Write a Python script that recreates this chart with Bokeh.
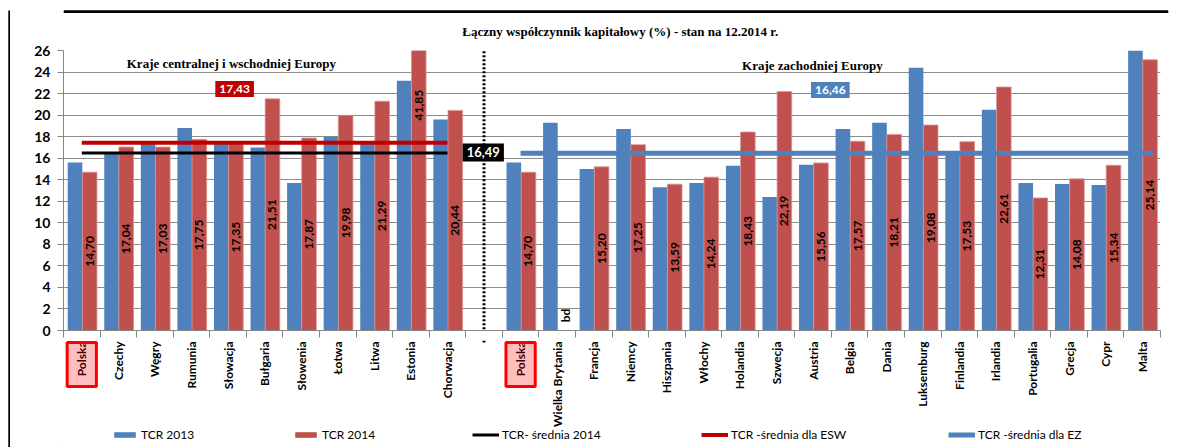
from bokeh.plotting import figure
from bokeh.models import (Range1d, FixedTicker, Label, Legend, LegendItem, ColumnDataSource)
from bokeh.layouts import column, row
from bokeh.core.properties import value
from bokeh.embed import file_html
from bokeh.resources import INLINE
import math

# ---------------- data ----------------
title_text = "Łączny współczynnik kapitałowy (%) - stan na 12.2014 r."
group_left_title = "Kraje centralnej i wschodniej Europy"
group_right_title = "Kraje zachodniej Europy"

cee_countries = ["Polska", "Czechy", "Węgry", "Rumunia", "Słowacja", "Bułgaria",
                 "Słowenia", "Łotwa", "Litwa", "Estonia", "Chorwacja"]
cee_tcr2013 = [15.6, 16.5, 17.5, 18.8, 17.5, 17.0, 13.7, 18.0, 17.5, 23.2, 19.6]
cee_tcr2014 = [14.70, 17.04, 17.03, 17.75, 17.35, 21.51, 17.87, 19.98, 21.29, 41.85, 20.44]

we_countries = ["Polska", "Wielka Brytania", "Francja", "Niemcy", "Hiszpania", "Włochy",
                "Holandia", "Szwecja", "Austria", "Belgia", "Dania", "Luksemburg",
                "Finlandia", "Irlandia", "Portugalia", "Grecja", "Cypr", "Malta"]
we_tcr2013 = [15.6, 19.3, 15.0, 18.7, 13.3, 13.7, 15.3, 12.4, 15.4, 18.7, 19.3, 24.4,
              16.3, 20.5, 13.7, 13.6, 13.5, 26.5]
we_tcr2014 = [14.70, None, 15.20, 17.25, 13.59, 14.24, 18.43, 22.19, 15.56, 17.57, 18.21,
              19.08, 17.53, 22.61, 12.31, 14.08, 15.34, 25.14]

avg_2014 = 16.49
avg_esw = 17.43
avg_ez = 16.46

y_ticks = list(range(0, 27, 2))
legend_labels = ["TCR 2013", "TCR 2014", "TCR- średnia 2014",
                 "TCR -średnia dla ESW", "TCR -średnia dla EZ"]
highlight = "Polska"

# ---------------- styling ----------------
BLUE = "#4F81BD"
RED = "#C0504D"
DARKRED = "#C00000"
GRID = "#8C8C8C"
AXIS = "#868686"
SANS = "Lato"
SERIF = "Liberation Serif"
LEFT = 10          # width of the left strip holding the border line
W = 1172           # width of main chart canvas
BL, BR = 53, 22

gap = 1
x_cee = list(range(len(cee_countries)))
x_we = [len(cee_countries) + gap + i for i in range(len(we_countries))]
n_total = len(cee_countries) + gap + len(we_countries)
xs_all = x_cee + x_we
names_all = cee_countries + we_countries


def bare(fig):
    fig.outline_line_color = None
    fig.grid.visible = False
    fig.background_fill_color = "white"
    fig.border_fill_color = "white"
    return fig


# ---- left strip with border line ----
left_bar = bare(figure(width=LEFT, height=447, output_backend="svg", toolbar_location=None,
                       x_range=Range1d(0, LEFT), y_range=Range1d(0, 447),
                       x_axis_location=None, y_axis_location=None,
                       min_border_left=0, min_border_right=0, min_border_top=0,
                       min_border_bottom=0))
left_bar.quad(left=[7.8], right=[10], top=[437], bottom=[0], fill_color="black", line_color=None)

# ---- top strip: border line + title ----
TW = 1180
top = bare(figure(width=TW, height=42, output_backend="svg", toolbar_location=None,
                  x_range=Range1d(0, TW), y_range=Range1d(0, 42),
                  x_axis_location=None, y_axis_location=None,
                  min_border_left=0, min_border_right=0, min_border_top=0, min_border_bottom=0))
top.quad(left=[0], right=[TW], top=[32.2], bottom=[29.5], fill_color="black", line_color=None)
top.text(x=[594.5], y=[11], text=[title_text], text_align="center", text_baseline="middle",
         text_font=value(SERIF), text_font_style="bold", text_font_size="13px",
         text_color="black")

# ---- main chart ----
p = figure(width=W, height=298, output_backend="svg", toolbar_location=None,
           x_range=Range1d(-0.5, n_total - 0.5), y_range=Range1d(0, 26),
           min_border_left=BL, min_border_right=BR, min_border_top=8,
           min_border_bottom=10)
p.outline_line_color = None
p.background_fill_color = "white"
p.border_fill_color = "white"

v13 = cee_tcr2013 + we_tcr2013
v14 = cee_tcr2014 + we_tcr2014
src13 = ColumnDataSource(dict(x=[x - 0.185 for x in xs_all], top=v13))
x14 = [x + 0.215 for x, v in zip(xs_all, v14) if v is not None]
t14 = [v for v in v14 if v is not None]
src14 = ColumnDataSource(dict(x=x14, top=t14))

p.vbar(x="x", top="top", width=0.4, source=src13, fill_color=BLUE, line_color=None)
p.vbar(x="x", top="top", width=0.4, source=src14, fill_color=RED,
       line_color="#D99694", line_width=0.8)

lab = ColumnDataSource(dict(x=x14, y=[v / 2 for v in t14],
                            t=[f"{v:.2f}".replace(".", ",") for v in t14]))
p.text(x="x", y="y", text="t", source=lab, angle=math.pi / 2,
       text_align="center", text_baseline="middle", text_font=value(SANS),
       text_font_style="bold", text_font_size="12px", text_color="black")

bd_x = [x_we[i] + 0.215 for i, v in enumerate(we_tcr2014) if v is None]
p.text(x=bd_x, y=[1.4] * len(bd_x), text=["bd"] * len(bd_x), angle=math.pi / 2,
       text_align="center", text_baseline="middle", text_font=value(SANS),
       text_font_style="bold", text_font_size="12px", text_color="black")

line_kw = [dict(line_color="black", line_width=3),
           dict(line_color=DARKRED, line_width=4),
           dict(line_color=BLUE, line_width=5)]
p.line(x=[x_cee[0], x_cee[-1]], y=[avg_2014, avg_2014], **line_kw[0])
p.line(x=[x_cee[0], x_cee[-1]], y=[avg_esw, avg_esw], **line_kw[1])
p.line(x=[x_we[0], x_we[-1] + 0.3], y=[avg_ez, avg_ez], **line_kw[2])

sep_x = len(cee_countries)
p.segment(x0=[sep_x], y0=[-1], x1=[sep_x], y1=[27], line_color="black",
          line_width=3, line_dash="2 2")


def boxed(x, y, txt, bg, size):
    p.add_layout(Label(x=x, y=y, text=txt, text_align="center", text_baseline="middle",
                       text_color="white", text_font=SANS, text_font_style="bold",
                       text_font_size=size, background_fill_color=bg, padding=4))


boxed(4.18, 22.42, f"{avg_esw:.2f}".replace(".", ","), DARKRED, "12px")
boxed(20.47, 22.33, f"{avg_ez:.2f}".replace(".", ","), BLUE, "12px")
boxed(10.98, 16.53, f"{avg_2014:.2f}".replace(".", ","), "black", "13px")

p.add_layout(Label(x=4.09, y=24.8, text=group_left_title, text_align="center",
                   text_baseline="middle", text_font=SERIF, text_font_style="bold",
                   text_font_size="13px", text_color="black"))
p.add_layout(Label(x=19.98, y=24.6, text=group_right_title, text_align="center",
                   text_baseline="middle", text_font=SERIF, text_font_style="bold",
                   text_font_size="13px", text_color="black"))

p.xgrid.grid_line_color = None
p.ygrid.grid_line_color = GRID
p.ygrid.grid_line_width = 1
p.yaxis.ticker = FixedTicker(ticks=y_ticks)
p.yaxis.axis_line_color = AXIS
p.yaxis.major_tick_line_color = AXIS
p.yaxis.major_tick_out = 6
p.yaxis.major_tick_in = 0
p.yaxis.minor_tick_line_color = None
p.yaxis.major_label_standoff = 7
p.yaxis.major_label_text_font = SANS
p.yaxis.major_label_text_font_style = "bold"
p.yaxis.major_label_text_font_size = "14px"
p.yaxis.major_label_text_color = "black"

p.xaxis.ticker = FixedTicker(ticks=[], minor_ticks=[i - 0.5 for i in range(n_total + 1)])
p.xaxis.axis_line_color = AXIS
p.xaxis.major_tick_line_color = None
p.xaxis.major_tick_out = 0
p.xaxis.minor_tick_line_color = AXIS
p.xaxis.minor_tick_out = 7
p.xaxis.minor_tick_in = 0
p.xaxis.major_label_standoff = 0
p.xaxis.major_label_text_font_size = "0px"

# ---- bottom strip: category labels, highlight boxes, legend ----
H2 = 107
b = bare(figure(width=W, height=H2, output_backend="svg", toolbar_location=None,
                x_range=p.x_range, y_range=Range1d(0, H2),
                x_axis_location=None, y_axis_location=None,
                min_border_left=BL, min_border_right=BR, min_border_top=0, min_border_bottom=0))
b.text(x=xs_all, y=[106] * len(xs_all), text=names_all, angle=math.pi / 2,
       text_align="right", text_baseline="middle", text_font=value(SANS),
       text_font_style="bold", text_font_size="12px", text_color="black")
hx = [x for x, n in zip(xs_all, names_all) if n == highlight]
b.quad(left=[x - 0.4 for x in hx], right=[x + 0.4 for x in hx],
       top=[105] * len(hx), bottom=[61] * len(hx),
       fill_color="#FF0000", fill_alpha=0.25, line_color="#FF0000", line_width=3)
b.segment(x0=[sep_x], y0=[H2], x1=[sep_x], y1=[H2 - 2], line_color="black", line_width=3)

# legend proxies (one point each, outside the visible range)
d13 = b.vbar(x=[-100], top=[1], width=0.4, fill_color=BLUE, line_color=None)
d14 = b.vbar(x=[-100], top=[1], width=0.4, fill_color=RED, line_color=None)
d_lines = [b.line(x=[-101, -100], y=[1, 1], **kw) for kw in line_kw]
leg_renderers = [d13, d14] + d_lines
leg_x = [48, 229, 409, 638, 885]
for lbl, rr, lx in zip(legend_labels, leg_renderers, leg_x):
    lg = Legend(items=[LegendItem(label=lbl, renderers=[rr])], location=(lx, 5),
                orientation="horizontal", padding=0, margin=0, spacing=0,
                border_line_color=None, background_fill_alpha=0,
                glyph_width=27, glyph_height=7, label_standoff=3, label_height=15,
                label_text_font=SANS, label_text_font_size="12px", label_text_color="black")
    b.add_layout(lg, "center")

layout = row(left_bar, column(top, p, b, spacing=0), spacing=0)
open("out.html", "w").write(file_html(layout, INLINE))
